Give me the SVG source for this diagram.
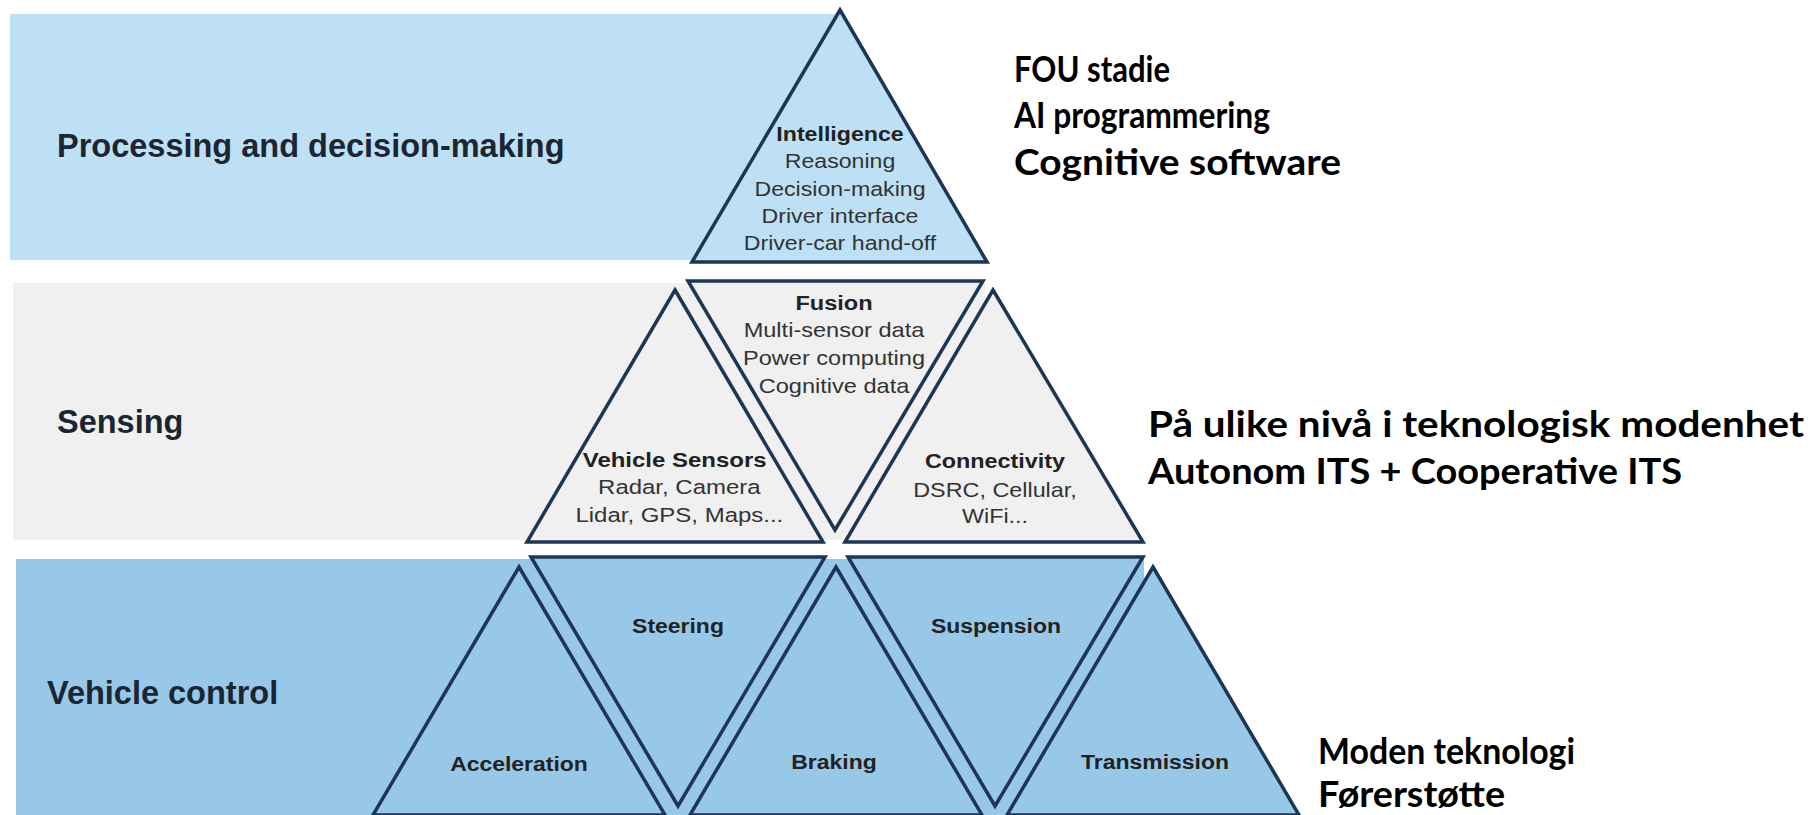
<svg xmlns="http://www.w3.org/2000/svg" width="1813" height="815" viewBox="0 0 1813 815">
  <defs>
    <style>
      .band-top { fill: #bee0f4; }
      .band-mid { fill: #f0f0f0; }
      .band-low { fill: #98c8e8; }
      .tri { stroke: #1c3654; stroke-width: 3.5; stroke-linejoin: miter; }
      .tri-top { fill: #bee0f4; }
      .tri-mid { fill: #f0f0f0; }
      .tri-low { fill: #98c8e8; }
      .layer { font-family: "Liberation Sans", Arial, sans-serif; font-weight: 700; font-size: 32.5px; fill: #1c2633; }
      .lbl { font-family: "Liberation Sans", Arial, sans-serif; font-size: 20.5px; fill: #333333; text-anchor: middle; }
      .lbl-b { font-weight: 700; fill: #222222; }
      .note { font-family: Lato, "Open Sans", sans-serif; font-weight: 700; font-size: 36px; fill: #000000; }
    </style>
  </defs>

  <!-- layer bands -->
  <g id="layers">
    <rect class="band-top" x="10" y="14" width="826" height="246"/>
    <rect class="band-mid" x="13" y="283" width="972" height="257"/>
    <rect class="band-low" x="16" y="559" width="1128" height="256"/>
  </g>

  <!-- layer titles -->
  <g id="layer-titles">
    <text class="layer" x="57" y="157">Processing and decision-making</text>
    <text class="layer" x="57" y="433">Sensing</text>
    <text class="layer" x="47" y="704">Vehicle control</text>
  </g>

  <!-- top tier -->
  <g id="intelligence">
    <polygon class="tri tri-top" points="840,10 987,262 692,262"/>
    <g transform="translate(840,0) scale(1.13,1)">
      <text class="lbl lbl-b" x="0" y="141">Intelligence</text>
      <text class="lbl" x="0" y="168">Reasoning</text>
      <text class="lbl" x="0" y="196">Decision-making</text>
      <text class="lbl" x="0" y="223">Driver interface</text>
      <text class="lbl" x="0" y="250">Driver-car hand-off</text>
    </g>
  </g>

  <!-- middle tier -->
  <g id="vehicle-sensors">
    <polygon class="tri tri-mid" points="675,290 823,542 527,542"/>
    <g transform="translate(677,0) scale(1.17,1)">
      <text class="lbl lbl-b" x="-2" y="467">Vehicle Sensors</text>
      <text class="lbl" x="2" y="494">Radar, Camera</text>
      <text class="lbl" x="2" y="522">Lidar, GPS, Maps...</text>
    </g>
  </g>
  <g id="fusion">
    <polygon class="tri tri-mid" points="688,281 983,281 835,530"/>
    <g transform="translate(834,0) scale(1.15,1)">
      <text class="lbl lbl-b" x="0" y="310">Fusion</text>
      <text class="lbl" x="0" y="337">Multi-sensor data</text>
      <text class="lbl" x="0" y="365">Power computing</text>
      <text class="lbl" x="0" y="393">Cognitive data</text>
    </g>
  </g>
  <g id="connectivity">
    <polygon class="tri tri-mid" points="993,290 1143,542 845,542"/>
    <g transform="translate(995,0) scale(1.14,1)">
      <text class="lbl lbl-b" x="0" y="468">Connectivity</text>
      <text class="lbl" x="0" y="497">DSRC, Cellular,</text>
      <text class="lbl" x="0" y="523">WiFi...</text>
    </g>
  </g>

  <!-- bottom tier -->
  <g id="acceleration">
    <polygon class="tri tri-low" points="519,567 665,815 373,815"/>
    <text class="lbl lbl-b" transform="translate(519,771) scale(1.12,1)" x="0" y="0">Acceleration</text>
  </g>
  <g id="steering">
    <polygon class="tri tri-low" points="531,557 825,557 678,806"/>
    <text class="lbl lbl-b" transform="translate(678,633) scale(1.12,1)" x="0" y="0">Steering</text>
  </g>
  <g id="braking">
    <polygon class="tri tri-low" points="836,567 982,815 690,815"/>
    <text class="lbl lbl-b" transform="translate(834,769) scale(1.12,1)" x="0" y="0">Braking</text>
  </g>
  <g id="suspension">
    <polygon class="tri tri-low" points="848,557 1143,557 995,806"/>
    <text class="lbl lbl-b" transform="translate(996,633) scale(1.12,1)" x="0" y="0">Suspension</text>
  </g>
  <g id="transmission">
    <polygon class="tri tri-low" points="1153,567 1299,815 1007,815"/>
    <text class="lbl lbl-b" transform="translate(1155,769) scale(1.12,1)" x="0" y="0">Transmission</text>
  </g>

  <!-- maturity notes -->
  <g id="note-research">
    <text class="note" x="1014" y="82" textLength="156" lengthAdjust="spacingAndGlyphs">FOU stadie</text>
    <text class="note" x="1014" y="128" textLength="256" lengthAdjust="spacingAndGlyphs">AI programmering</text>
    <text class="note" x="1014" y="175" textLength="327" lengthAdjust="spacingAndGlyphs">Cognitive software</text>
  </g>
  <g id="note-mixed">
    <text class="note" x="1148" y="437" textLength="656" lengthAdjust="spacingAndGlyphs">På ulike nivå i teknologisk modenhet</text>
    <text class="note" x="1148" y="484" textLength="534" lengthAdjust="spacingAndGlyphs">Autonom ITS + Cooperative ITS</text>
  </g>
  <g id="note-mature">
    <text class="note" x="1318" y="764" textLength="257" lengthAdjust="spacingAndGlyphs">Moden teknologi</text>
    <text class="note" x="1318" y="807" textLength="187" lengthAdjust="spacingAndGlyphs">Førerstøtte</text>
  </g>
</svg>
